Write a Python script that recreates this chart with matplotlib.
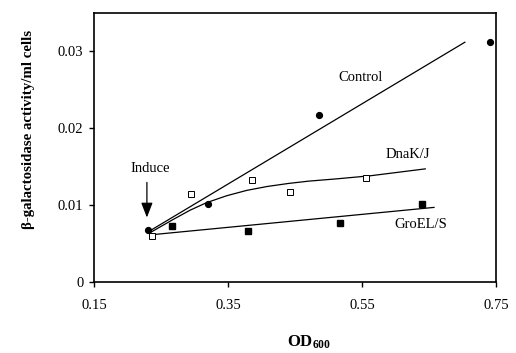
import numpy as np
import matplotlib
matplotlib.use("Agg")
import matplotlib.pyplot as plt

plt.rcParams['font.family'] = ['Liberation Serif', 'DejaVu Serif']
plt.rcParams['mathtext.fontset'] = 'custom'
plt.rcParams['mathtext.rm'] = 'Liberation Serif'
plt.rcParams['mathtext.bf'] = 'Liberation Serif:bold'

# data
control_x = [0.231, 0.320, 0.486, 0.740]
control_y = [0.00676, 0.01016, 0.02175, 0.03124]
dnak_x = [0.236, 0.295, 0.386, 0.443, 0.555]
dnak_y = [0.00597, 0.01142, 0.01330, 0.01168, 0.01352]
groel_x = [0.267, 0.380, 0.517, 0.639]
groel_y = [0.00732, 0.00667, 0.00771, 0.01012]

# trend lines as drawn in the figure
control_fit_x = [0.231, 0.703]
control_fit_y = [0.0065, 0.0312]
dnak_fit_x = [0.234, 0.268, 0.293, 0.318, 0.348, 0.378, 0.408, 0.440, 0.470, 0.512, 0.562, 0.644]
dnak_fit_y = [0.0064, 0.0081, 0.0093, 0.0103, 0.0112, 0.0119, 0.0124, 0.0128, 0.0131, 0.0134, 0.0138, 0.0147]
groel_fit_x = [0.234, 0.657]
groel_fit_y = [0.0061, 0.00968]

fig = plt.figure(figsize=(5.16, 3.53), dpi=100)
ax = fig.add_axes([0.182, 0.202, 0.780, 0.761])

ax.plot(control_fit_x, control_fit_y, color='black', lw=0.9)
ax.plot(dnak_fit_x, dnak_fit_y, color='black', lw=0.9)
ax.plot(groel_fit_x, groel_fit_y, color='black', lw=0.9)

ax.plot(control_x, control_y, 'o', color='black', ms=4.2, zorder=3)
ax.plot(dnak_x, dnak_y, 's', mfc='white', mec='black', mew=0.7, ms=4.6, zorder=3)
ax.plot(groel_x, groel_y, 's', color='black', ms=4.6, zorder=3)

ax.text(0.547, 0.0266, 'Control', ha='center', va='center', fontsize=10.5)
ax.text(0.618, 0.01655, 'DnaK/J', ha='center', va='center', fontsize=10.5)
ax.text(0.638, 0.0074, 'GroEL/S', ha='center', va='center', fontsize=10.5)
ax.text(0.234, 0.0147, 'Induce', ha='center', va='center', fontsize=10.5)
ax.annotate('', xy=(0.229, 0.0080), xytext=(0.229, 0.0133),
            arrowprops=dict(arrowstyle='-|>,head_width=0.35,head_length=0.9',
                            color='black', lw=0.9))

ax.set_xlim(0.15, 0.75)
ax.set_ylim(0, 0.035)
ax.set_xticks([0.15, 0.35, 0.55, 0.75])
ax.set_xticklabels(['0.15', '0.35', '0.55', '0.75'])
ax.set_yticks([0, 0.01, 0.02, 0.03])
ax.set_yticklabels(['0', '0.01', '0.02', '0.03'])
ax.tick_params(axis='x', direction='out', length=3.5, width=1, pad=9, labelsize=10.5)
ax.tick_params(axis='y', direction='out', length=3.5, width=1, pad=4, labelsize=10.5)
for s in ax.spines.values():
    s.set_linewidth(1.2)

ax.set_ylabel('β-galactosidase activity/ml cells', fontsize=10.7, fontweight='bold')
ax.yaxis.set_label_coords(-0.147, 0.568)
ax.set_xlabel(r'$\mathbf{OD_{600}}$', fontsize=12)
ax.xaxis.set_label_coords(0.535, -0.195)

fig.savefig('out.png', dpi=100)
